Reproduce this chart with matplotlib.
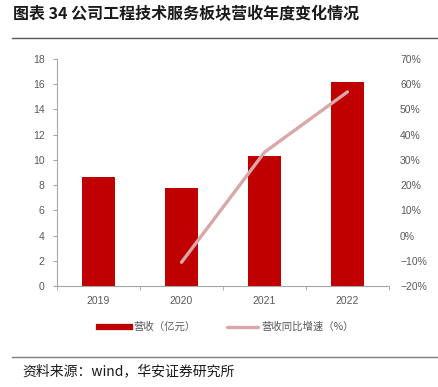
import matplotlib.pyplot as plt
from matplotlib.ticker import FixedLocator, PercentFormatter
from matplotlib.lines import Line2D

years = ['2019', '2020', '2021', '2022']
revenue = [8.65, 7.73, 10.28, 16.13]
growth_years = ['2020', '2021', '2022']
growth = [-10.6, 33.0, 56.9]

plt.rcParams['font.family'] = ['Liberation Sans', 'Noto Sans CJK SC', 'DejaVu Sans']
cjk = ['Noto Sans CJK SC', 'DejaVu Sans']
tick_color = '#595959'
bar_color = '#C00000'
line_color = '#D9A7A7'

fig = plt.figure(figsize=(4.39, 3.87), dpi=100)
ax = fig.add_axes([0.130, 0.261, 0.756, 0.587])
ax2 = ax.twinx()

x = list(range(len(years)))
ax.bar(x, revenue, width=0.4, color=bar_color, zorder=2)
gx = [years.index(y) for y in growth_years]
ax2.plot(gx, growth, color=line_color, lw=2.4, solid_capstyle='round', zorder=3)

ax.set_xlim(-0.5, 3.5)
ax.set_ylim(0, 18)
ax.set_yticks(range(0, 19, 2))
ax.set_xticks(x)
ax.set_xticklabels(years)
ax.xaxis.set_minor_locator(FixedLocator([-0.5, 0.5, 1.5, 2.5, 3.5]))
ax.tick_params(axis='x', which='major', length=0, pad=7, labelsize=7.5, colors=tick_color)
ax.tick_params(axis='x', which='minor', length=3, direction='out', color='#A6A6A6')
ax.tick_params(axis='y', length=3, direction='out', color='#A6A6A6', pad=6,
               labelsize=7.5, labelcolor=tick_color)

ax2.set_ylim(-20, 70)
ax2.set_yticks(range(-20, 71, 10))
ax2.yaxis.set_major_formatter(PercentFormatter(decimals=0))
ax2.tick_params(axis='y', length=0, pad=8, labelsize=7.5, labelcolor=tick_color)

for a in (ax, ax2):
    a.spines['top'].set_visible(False)
    a.spines['right'].set_visible(False)
ax2.spines['left'].set_visible(False)
ax2.spines['bottom'].set_visible(False)
ax.spines['left'].set_color('#A6A6A6')
ax.spines['bottom'].set_color('#A6A6A6')
ax.set_zorder(ax2.get_zorder() - 1)
ax2.patch.set_visible(False)

handles = [Line2D([], [], color=bar_color, lw=4.5),
           Line2D([], [], color=line_color, lw=2.4, solid_capstyle='round')]
fig.legend(handles, ['营收（亿元）', '营收同比增速（%）'], loc='center',
           bbox_to_anchor=(0.515, 0.155), ncol=2, frameon=False,
           prop={'family': cjk, 'size': 7.5}, labelcolor=tick_color,
           handlelength=3.0, handletextpad=0.3, columnspacing=3.0)

fig.text(0.03, 0.963, '图表 34 公司工程技术服务板块营收年度变化情况', family=cjk,
         fontsize=11.5, fontweight='bold', va='center', ha='left', color='#1a1a1a')
fig.add_artist(Line2D([0.027, 1.0], [0.903, 0.903], color='#595959', lw=1.0))
fig.add_artist(Line2D([0.027, 1.0], [0.078, 0.078], color='#7f7f7f', lw=1.0))
fig.text(0.05, 0.04, '资料来源：wind，华安证券研究所', family=cjk,
         fontsize=10, va='center', ha='left', color='#1a1a1a')

fig.savefig('out.png', dpi=100)
